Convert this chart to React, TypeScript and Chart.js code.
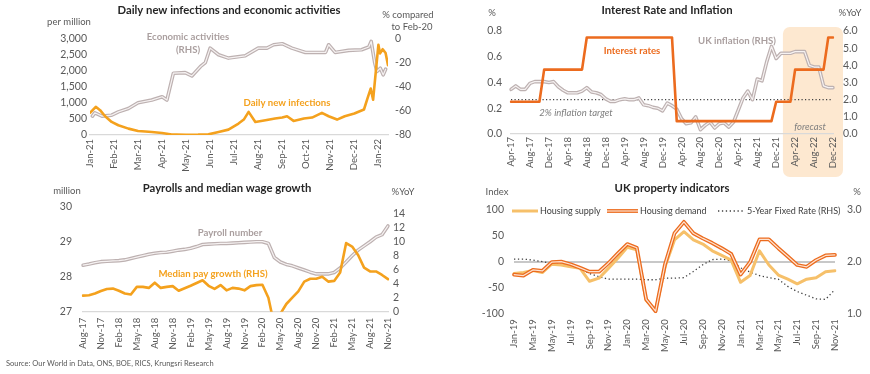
import React, { useEffect, useRef } from 'react';
import { Chart, registerables } from 'chart.js';

Chart.register(...registerables);

const FONT = "Lato, 'Open Sans', sans-serif";
Chart.defaults.font.family = FONT;

// ---------- Panel 1: Daily new infections and economic activities ----------
const covidMonthTicks = ['Jan-21', 'Feb-21', 'Mar-21', 'Apr-21', 'May-21', 'Jun-21', 'Jul-21', 'Aug-21', 'Sep-21', 'Oct-21', 'Nov-21', 'Dec-21', 'Jan-22'];
// position in months since 1 Jan 2021
const infectionsAt = [0, 0.24, 0.42, 0.63, 0.9, 1.18, 1.6, 2.0, 2.3, 2.57, 3.0, 3.2, 3.4, 3.6, 4.0, 4.5, 4.93, 5.35, 5.76, 6.18, 6.4, 6.6, 6.88, 7.3, 7.7, 8.0, 8.2, 8.47, 8.9, 9.24, 9.65, 9.93, 10.28, 10.6, 11.0, 11.4, 11.55, 11.68, 11.78, 12.0, 12.07, 12.18, 12.3, 12.4];
const infectionsPerMillion = [692, 881, 776, 587, 409, 304, 199, 126, 110, 94, 63, 40, 15, 12, 10, 12, 21, 94, 168, 357, 482, 723, 409, 461, 514, 545, 587, 440, 514, 545, 692, 587, 482, 587, 671, 797, 1150, 1450, 1100, 2820, 2550, 2680, 2560, 2180];
const activityAt = [0.1, 0.2, 0.5, 0.9, 1.18, 1.6, 2.0, 2.57, 3.0, 3.2, 3.47, 3.96, 4.24, 4.6, 4.8, 5.0, 5.35, 5.76, 6.46, 7.0, 7.36, 7.64, 8.0, 8.4, 8.96, 9.5, 9.8, 9.93, 10.2, 10.76, 11.3, 11.6, 11.7, 11.85, 11.94, 12.08, 12.2, 12.3];
const activityVsFeb20 = [-64.3, -61.5, -64.3, -63.5, -60.7, -57.9, -53.1, -50.9, -48.1, -50.9, -28.5, -28, -30.8, -22.9, -19.6, -7.6, -13.1, -15.9, -14, -7.6, -7.6, -4.8, -3.9, -7.6, -11.2, -11.2, -11.2, -4.8, -11.2, -9.5, -9, -6.7, -2, -20.1, -27.1, -24.3, -29.9, -25.2];

// ---------- Panel 2: Interest Rate and Inflation (monthly Apr-17 .. Dec-22) ----------
const bankRate = [
  0.25, 0.25, 0.25, 0.25, 0.25, 0.25, 0.25,
  0.5, 0.5, 0.5, 0.5, 0.5, 0.5, 0.5, 0.5, 0.5,
  0.75, 0.75, 0.75, 0.75, 0.75, 0.75, 0.75, 0.75, 0.75, 0.75, 0.75, 0.75, 0.75, 0.75, 0.75, 0.75, 0.75, 0.75, 0.75,
  0.1, 0.1, 0.1, 0.1, 0.1, 0.1, 0.1, 0.1, 0.1, 0.1, 0.1, 0.1, 0.1, 0.1, 0.1, 0.1, 0.1, 0.1, 0.1, 0.1, 0.1,
  0.25, 0.25, 0.25, 0.25,
  0.5, 0.5, 0.5, 0.5, 0.5, 0.5, 0.5,
  0.75, 0.75,
];
const ukInflation = [
  2.6, 2.8, 2.6, 2.6, 2.95, 3.05, 3.05, 3.05, 3.0, 3.05,
  2.75, 2.55, 2.4, 2.4, 2.4, 2.5, 2.7, 2.45, 2.4, 2.3,
  2.05, 1.9, 1.9, 2.0, 2.05, 2.0, 2.0, 2.1, 1.7, 1.65,
  1.55, 1.5, 1.35, 1.8, 1.65, 1.45, 0.9, 0.6, 0.65, 1.0,
  0.25, 0.5, 0.7, 0.35, 0.6, 0.65, 0.4, 0.7, 1.4, 2.1,
  2.5, 2.0, 3.2, 3.1, 4.2, 5.1, 4.4, 4.7, 4.7, 4.7,
  4.8, 4.8, 4.8, 4.0, 3.9, 3.9, 2.8, 2.7, 2.7,
];
const inflationTarget = 2;
const forecastStart = 'Jan-22';

// ---------- Panel 3: Payrolls and median wage growth (monthly Aug-17 .. Nov-21) ----------
const payrollMillions = [
  28.33, 28.36, 28.4, 28.43, 28.44, 28.45, 28.46, 28.48, 28.52, 28.56,
  28.6, 28.64, 28.67, 28.69, 28.7, 28.73, 28.76, 28.78, 28.81, 28.86,
  28.92, 28.93, 28.94, 28.95, 28.95, 28.96, 28.97, 28.98, 28.99, 29.0,
  29.0, 28.95, 28.55, 28.42, 28.35, 28.31, 28.25, 28.19, 28.13, 28.08,
  28.08, 28.08, 28.12, 28.25, 28.42, 28.6, 28.76, 28.88, 29.0, 29.13,
  29.2, 29.45,
];
const medianPayGrowth = [
  2.3, 2.35, 2.6, 2.95, 3.25, 3.3, 3.0, 2.6, 2.45, 3.55,
  3.55, 3.4, 4.15, 3.4, 3.55, 3.65, 3.0, 3.35, 3.7, 4.1,
  4.5, 3.7, 3.25, 3.8, 3.05, 3.4, 3.3, 3.05, 3.65, 3.8,
  3.85, 2.0, -2.0, -0.3, 1.1, 2.0, 2.9, 4.3, 4.7, 4.7,
  5.0, 4.3, 4.4, 5.6, 9.8, 9.3, 8.1, 6.3, 5.75, 5.75,
  5.25, 4.65,
];

// ---------- Panel 4: UK property indicators (monthly Jan-19 .. Nov-21) ----------
const housingSupply = [
  -23, -21, -17, -21, -5, -6.5, -10, -13, -38, -32,
  -13, 6.5, 28, 23, -75, -94, -10, 42, 58, 42,
  34, 21, 12, 3, -40, -27, 21, -6.5, -26, -34,
  -43, -34, -31, -19.5, -17.5,
];
const housingDemand = [
  -25, -27, -16, -18, -1, 0, -5, -12, -19.5, -19.5,
  -3, 16, 34, 27, -73, -96, -5, 55, 77, 55,
  45, 36, 26, 15, -25, -1, 43, 43, 26, 10,
  -6.5, -10, 3, 12, 13,
];
const fixedRate5y = [
  2.05, 2.05, 2.03, 2.0, 1.97, 1.95, 1.92, 1.86, 1.77, 1.71,
  1.66, 1.66, 1.66, 1.66, 1.65, 1.65, 1.68, 1.68, 1.69, 1.81,
  1.94, 2.04, 2.05, 2.02, 1.88, 1.8, 1.73, 1.69, 1.66, 1.52,
  1.42, 1.35, 1.28, 1.27, 1.46,
];

const MON = ['Jan', 'Feb', 'Mar', 'Apr', 'May', 'Jun', 'Jul', 'Aug', 'Sep', 'Oct', 'Nov', 'Dec'];
function monthLabels(year: number, month: number, count: number): string[] {
  const out: string[] = [];
  for (let i = 0; i < count; i++) {
    const m = (month + i) % 12;
    const y = year + Math.floor((month + i) / 12);
    out.push(`${MON[m]}-${String(y % 100).padStart(2, '0')}`);
  }
  return out;
}
const rateMonths = monthLabels(2017, 3, bankRate.length);
const payrollMonths = monthLabels(2017, 7, payrollMillions.length);
const propertyMonths = monthLabels(2019, 0, housingSupply.length);

// ---------- styling ----------
const C = {
  title: '#262626',
  axis: '#595959',
  base: '#d9d9d9',
  amber: '#f4a11d',
  orange: '#ec6b1e',
  greyOuter: '#bdb1b1',
  greyInner: '#f6f2f2',
  greyText: '#aa9f9f',
  supply: '#f6c06a',
  demandInner: '#fde3d2',
  dots: '#404040',
  forecast: '#fde8d0',
};

type TextItem = { t: string; x: number; y: number; font: string; color: string; align?: CanvasTextAlign };
const bold = (s: number) => `bold ${s}px ${FONT}`;
const reg = (s: number) => `${s}px ${FONT}`;
const ital = (s: number) => `italic ${s}px ${FONT}`;
const TITLE = bold(11.3);
const NOTE = bold(9.6);

function textPlugin(items: TextItem[]) {
  return {
    id: 'texts',
    afterDraw(chart: any) {
      const ctx = chart.ctx;
      ctx.save();
      ctx.textBaseline = 'middle';
      for (const it of items) {
        ctx.font = it.font;
        ctx.fillStyle = it.color;
        ctx.textAlign = it.align || 'center';
        ctx.fillText(it.t, it.x, it.y);
      }
      ctx.restore();
    },
  };
}

function yAxis(position: 'left' | 'right', min: number, max: number, step: number, pad: number, width: number, fmt?: (v: number) => string) {
  const ticks: any = { stepSize: step, padding: pad, color: C.axis, font: { size: 10.5, family: FONT }, includeBounds: false, autoSkip: false };
  if (fmt) ticks.callback = (v: any) => fmt(Number(v));
  return {
    type: 'linear',
    position,
    min,
    max,
    grid: { display: false, drawTicks: false },
    border: { display: false },
    ticks,
    afterFit: (s: any) => { s.width = width; },
  };
}

function xCategory(every: number, height: number, pad: number, border: boolean) {
  return {
    type: 'category',
    offset: false,
    grid: { display: false, drawTicks: false },
    border: { display: border, color: C.base, width: 1.2 },
    ticks: { autoSkip: false, maxRotation: 90, minRotation: 90, padding: pad, color: C.axis, font: { size: 9.5, family: FONT } },
    afterBuildTicks: (s: any) => { s.ticks = s.ticks.filter((t: any) => t.value % every === 0); },
    afterFit: (s: any) => { s.height = height; },
  };
}

function line(data: any[], color: string, width: number, yAxisID: string, order: number, extra: any = {}) {
  return {
    data,
    borderColor: color,
    backgroundColor: color,
    borderWidth: width,
    pointRadius: 0,
    tension: 0,
    yAxisID,
    order,
    borderJoinStyle: 'round',
    borderCapStyle: 'round',
    ...extra,
  };
}

const baseOptions = (padTop: number) => ({
  responsive: false,
  animation: false,
  devicePixelRatio: 1,
  layout: { padding: { top: padTop, left: 0, right: 0, bottom: 0 } },
  plugins: { legend: { display: false }, tooltip: { enabled: false }, title: { display: false } },
});

// ---------- chart configs ----------
function covidConfig(): any {
  const inf = infectionsAt.map((x, i) => ({ x, y: infectionsPerMillion[i] }));
  const act = activityAt.map((x, i) => ({ x, y: activityVsFeb20[i] }));
  return {
    type: 'line',
    data: {
      datasets: [
        line(inf, C.amber, 2.6, 'y', 0),
        line(act, C.greyInner, 1.2, 'y1', 1),
        line(act, C.greyOuter, 3.6, 'y1', 2),
      ],
    },
    options: {
      ...baseOptions(39),
      scales: {
        x: {
          type: 'linear',
          min: 0,
          max: 12.4,
          grid: { display: false, drawTicks: false },
          border: { display: true, color: C.base, width: 1.2 },
          ticks: {
            stepSize: 1,
            includeBounds: false,
            autoSkip: false,
            maxRotation: 90,
            minRotation: 90,
            padding: 4,
            color: C.axis,
            font: { size: 9.5, family: FONT },
            callback: (v: any) => covidMonthTicks[Number(v)] ?? '',
          },
          afterFit: (s: any) => { s.height = 45; },
        },
        y: yAxis('left', 0, 3000, 500, 3, 90),
        y1: yAxis('right', -80, 0, 20, 7, 47),
      },
    },
    plugins: [
      textPlugin([
        { t: 'Daily new infections and economic activities', x: 229, y: 10, font: TITLE, color: C.title },
        { t: 'per million', x: 69, y: 22, font: reg(9.5), color: C.axis },
        { t: '% compared', x: 408, y: 15, font: reg(9.5), color: C.axis },
        { t: 'to Feb-20', x: 412, y: 27, font: reg(9.5), color: C.axis },
        { t: 'Economic activities', x: 188, y: 37, font: NOTE, color: C.greyText },
        { t: '(RHS)', x: 188, y: 50, font: NOTE, color: C.greyText },
        { t: 'Daily new infections', x: 287, y: 103, font: NOTE, color: C.amber },
      ]),
    ],
  };
}

function rateConfig(): any {
  const forecastIdx = rateMonths.indexOf(forecastStart);
  return {
    type: 'line',
    data: {
      labels: rateMonths,
      datasets: [
        line(bankRate, C.orange, 2.6, 'y', 0),
        line(ukInflation, C.greyInner, 1.2, 'y1', 1),
        line(ukInflation, C.greyOuter, 3.6, 'y1', 2),
      ],
    },
    options: {
      ...baseOptions(31),
      scales: {
        x: xCategory(4, 46, 3, true),
        y: yAxis('left', 0, 0.8, 0.2, 9, 76, (v) => v.toFixed(1)),
        y1: yAxis('right', 0, 6, 1, 10, 37, (v) => v.toFixed(1)),
      },
    },
    plugins: [
      {
        id: 'forecastBox',
        beforeDraw(chart: any) {
          const ctx = chart.ctx;
          const x0 = chart.scales.x.getPixelForValue(forecastIdx) + 2;
          const x1 = chart.chartArea.right + 10;
          const y0 = chart.chartArea.top - 4;
          const y1 = chart.height - 3;
          ctx.save();
          ctx.fillStyle = C.forecast;
          ctx.beginPath();
          ctx.roundRect(x0, y0, x1 - x0, y1 - y0, 7);
          ctx.fill();
          ctx.restore();
        },
      },
      {
        id: 'targetLine',
        beforeDatasetsDraw(chart: any) {
          const ctx = chart.ctx;
          const y = chart.scales.y1.getPixelForValue(inflationTarget);
          ctx.save();
          ctx.strokeStyle = C.dots;
          ctx.lineWidth = 1.2;
          ctx.setLineDash([1.2, 2.3]);
          ctx.beginPath();
          ctx.moveTo(chart.chartArea.left, y);
          ctx.lineTo(chart.chartArea.right, y);
          ctx.stroke();
          ctx.restore();
        },
      },
      textPlugin([
        { t: 'Interest Rate and Inflation', x: 232, y: 10, font: TITLE, color: C.title },
        { t: '%', x: 57, y: 13, font: reg(9.5), color: C.axis },
        { t: '%YoY', x: 415, y: 13, font: reg(9.5), color: C.axis },
        { t: 'Interest rates', x: 197, y: 51, font: NOTE, color: C.orange },
        { t: 'UK inflation (RHS)', x: 302, y: 41, font: NOTE, color: C.greyText },
        { t: '2% inflation target', x: 141, y: 113, font: ital(9.5), color: '#7f7f7f' },
        { t: 'forecast', x: 375, y: 127, font: ital(9.5), color: '#7f7f7f' },
      ]),
    ],
  };
}

function payrollConfig(): any {
  return {
    type: 'line',
    data: {
      labels: payrollMonths,
      datasets: [
        line(medianPayGrowth, C.amber, 2.6, 'y1', 0),
        line(payrollMillions, C.greyInner, 1.2, 'y', 1),
        line(payrollMillions, C.greyOuter, 3.6, 'y', 2),
      ],
    },
    options: {
      ...baseOptions(31.7),
      scales: {
        x: xCategory(3, 199 - 136.7, 6, true),
        y: yAxis('left', 27, 30, 1, 11, 83),
        y1: yAxis('right', 0, 15, 2, 5, 47),
      },
    },
    plugins: [
      textPlugin([
        { t: 'Payrolls and median wage growth', x: 227, y: 13, font: TITLE, color: C.title },
        { t: 'million', x: 67, y: 16, font: reg(9.5), color: C.axis },
        { t: '%YoY', x: 403, y: 17, font: reg(9.5), color: C.axis },
        { t: 'Payroll number', x: 230, y: 58, font: NOTE, color: C.greyText },
        { t: 'Median pay growth (RHS)', x: 213, y: 99, font: NOTE, color: C.amber },
        { t: 'Source: Our World in Data, ONS, BOE, RICS, Krungsri Research', x: 6, y: 189, font: reg(7.5), color: C.axis, align: 'left' },
      ]),
    ],
  };
}

function propertyConfig(): any {
  const left = yAxis('left', -100, 100, 50, 10, 79) as any;
  left.grid = {
    display: true,
    drawTicks: false,
    lineWidth: 2,
    color: (ctx: any) => (ctx.tick && ctx.tick.value === 0 ? '#c8c8c8' : 'rgba(0,0,0,0)'),
  };
  return {
    type: 'line',
    data: {
      labels: propertyMonths,
      datasets: [
        line(housingDemand, C.demandInner, 1.2, 'y', 0),
        line(housingDemand, C.orange, 3.8, 'y', 1),
        line(housingSupply, C.supply, 3, 'y', 2),
        line(fixedRate5y, C.dots, 1.3, 'y1', 3, { borderDash: [1.3, 2.6], borderCapStyle: 'butt' }),
      ],
    },
    options: {
      ...baseOptions(35),
      scales: {
        x: xCategory(2, 199 - 138.3, 6, false),
        y: left,
        y1: yAxis('right', 1, 3, 1, 12, 35, (v) => v.toFixed(1)),
      },
    },
    plugins: [
      {
        id: 'customLegend',
        afterDraw(chart: any) {
          const ctx = chart.ctx;
          const y = 36;
          ctx.save();
          ctx.lineCap = 'butt';
          // supply
          ctx.strokeStyle = C.supply; ctx.lineWidth = 3;
          ctx.beginPath(); ctx.moveTo(77, y); ctx.lineTo(103, y); ctx.stroke();
          // demand double
          ctx.strokeStyle = C.orange; ctx.lineWidth = 3.8;
          ctx.beginPath(); ctx.moveTo(172, y); ctx.lineTo(203, y); ctx.stroke();
          ctx.strokeStyle = C.demandInner; ctx.lineWidth = 1.2;
          ctx.beginPath(); ctx.moveTo(172, y); ctx.lineTo(203, y); ctx.stroke();
          // dotted
          ctx.strokeStyle = C.dots; ctx.lineWidth = 1.3; ctx.setLineDash([1.3, 2.6]);
          ctx.beginPath(); ctx.moveTo(283, y); ctx.lineTo(310, y); ctx.stroke();
          ctx.setLineDash([]);
          ctx.fillStyle = '#404040';
          ctx.font = reg(9);
          ctx.textBaseline = 'middle';
          ctx.textAlign = 'left';
          ctx.fillText('Housing supply', 105, y);
          ctx.fillText('Housing demand', 205, y);
          ctx.fillText('5-Year Fixed Rate (RHS)', 312, y);
          ctx.restore();
        },
      },
      textPlugin([
        { t: 'UK property indicators', x: 237, y: 13, font: TITLE, color: C.title },
        { t: 'Index', x: 62, y: 17, font: reg(9.5), color: C.axis },
        { t: '%', x: 422, y: 17, font: reg(9.5), color: C.axis },
      ]),
    ],
  };
}

function Panel({ left, top, w, h, make }: { left: number; top: number; w: number; h: number; make: () => any }) {
  const ref = useRef<HTMLCanvasElement>(null);
  useEffect(() => {
    const chart = new Chart(ref.current as HTMLCanvasElement, make());
    return () => chart.destroy();
  }, []);
  return (
    <canvas
      ref={ref}
      width={w}
      height={h}
      style={{ position: 'absolute', left, top, width: w, height: h, display: 'block' }}
    />
  );
}

export default function App() {
  return (
    <div style={{ position: 'fixed', left: 0, top: 0, width: 870, height: 374, background: '#ffffff', overflow: 'hidden' }}>
      <Panel left={0} top={0} w={435} h={180} make={covidConfig} />
      <Panel left={435} top={0} w={435} h={180} make={rateConfig} />
      <Panel left={0} top={175} w={435} h={199} make={payrollConfig} />
      <Panel left={435} top={175} w={435} h={199} make={propertyConfig} />
    </div>
  );
}
